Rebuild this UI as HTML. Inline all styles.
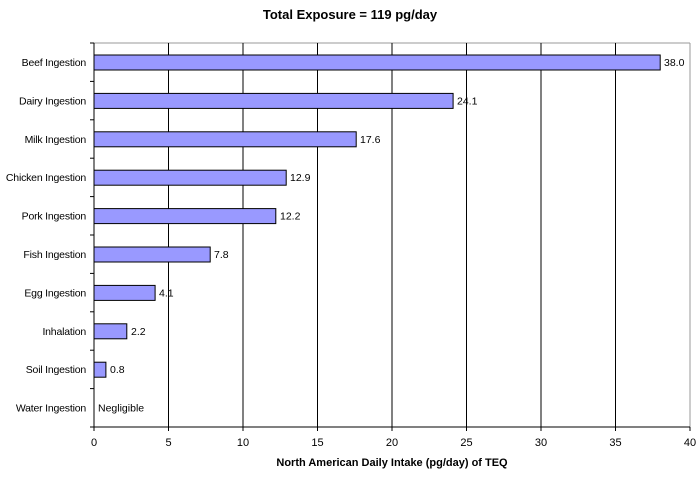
<!DOCTYPE html><html><head><style>body{margin:0;background:#fff}</style></head><body>
<svg width="700" height="478" xmlns="http://www.w3.org/2000/svg" font-family="Liberation Sans, Arial, sans-serif">
<rect width="700" height="478" fill="#fff"/>
<text x="350" y="19" font-size="13" font-weight="bold" text-anchor="middle">Total Exposure = 119 pg/day</text>
<line x1="94" y1="43" x2="690" y2="43" stroke="#999"/>
<line x1="690" y1="43" x2="690" y2="427" stroke="#999"/>
<g stroke="#000" stroke-width="1">
<line x1="168.5" y1="43" x2="168.5" y2="427"/><line x1="243" y1="43" x2="243" y2="427"/>
<line x1="317.5" y1="43" x2="317.5" y2="427"/><line x1="392" y1="43" x2="392" y2="427"/>
<line x1="466.5" y1="43" x2="466.5" y2="427"/><line x1="541" y1="43" x2="541" y2="427"/>
<line x1="615.5" y1="43" x2="615.5" y2="427"/>
<line x1="94" y1="43" x2="94" y2="431"/><line x1="90" y1="427" x2="690" y2="427"/>
<line x1="90" y1="43" x2="94" y2="43"/><line x1="90" y1="81.4" x2="94" y2="81.4"/><line x1="90" y1="119.8" x2="94" y2="119.8"/><line x1="90" y1="158.2" x2="94" y2="158.2"/><line x1="90" y1="196.6" x2="94" y2="196.6"/><line x1="90" y1="235" x2="94" y2="235"/><line x1="90" y1="273.4" x2="94" y2="273.4"/><line x1="90" y1="311.8" x2="94" y2="311.8"/><line x1="90" y1="350.2" x2="94" y2="350.2"/><line x1="90" y1="388.6" x2="94" y2="388.6"/>
<line x1="168.5" y1="427" x2="168.5" y2="431"/><line x1="243" y1="427" x2="243" y2="431"/><line x1="317.5" y1="427" x2="317.5" y2="431"/><line x1="392" y1="427" x2="392" y2="431"/><line x1="466.5" y1="427" x2="466.5" y2="431"/><line x1="541" y1="427" x2="541" y2="431"/><line x1="615.5" y1="427" x2="615.5" y2="431"/><line x1="690" y1="427" x2="690" y2="431"/>
</g>
<g fill="#9999ff" stroke="#000">
<rect x="94" y="55" width="566.2" height="15"/>
<rect x="94" y="93.4" width="359.1" height="15"/>
<rect x="94" y="131.8" width="262.2" height="15"/>
<rect x="94" y="170.2" width="192.2" height="15"/>
<rect x="94" y="208.6" width="181.8" height="15"/>
<rect x="94" y="247" width="116.2" height="15"/>
<rect x="94" y="285.4" width="61.1" height="15"/>
<rect x="94" y="323.8" width="32.8" height="15"/>
<rect x="94" y="362.2" width="11.9" height="15"/>
</g>
<g font-size="10.5" text-anchor="end" letter-spacing="-0.2">
<text x="86" y="66">Beef Ingestion</text><text x="86" y="104.4">Dairy Ingestion</text><text x="86" y="142.8">Milk Ingestion</text><text x="86" y="181.2">Chicken Ingestion</text><text x="86" y="219.6">Pork Ingestion</text><text x="86" y="258">Fish Ingestion</text><text x="86" y="296.4">Egg Ingestion</text><text x="86" y="334.8">Inhalation</text><text x="86" y="373.2">Soil Ingestion</text><text x="86" y="411.6">Water Ingestion</text>
</g>
<g font-size="10.5">
<text x="664" y="66">38.0</text><text x="457" y="104.4">24.1</text><text x="360" y="142.8">17.6</text><text x="290" y="181.2">12.9</text><text x="280" y="219.6">12.2</text><text x="214" y="258">7.8</text><text x="159" y="296.4">4.1</text><text x="131" y="334.8">2.2</text><text x="110" y="373.2">0.8</text><text x="98" y="411.6">Negligible</text>
</g>
<g font-size="11" text-anchor="middle">
<text x="94" y="446">0</text><text x="168.5" y="446">5</text><text x="243" y="446">10</text><text x="317.5" y="446">15</text><text x="392" y="446">20</text><text x="466.5" y="446">25</text><text x="541" y="446">30</text><text x="615.5" y="446">35</text><text x="690" y="446">40</text>
</g>
<text x="392" y="466" font-size="11" font-weight="bold" text-anchor="middle">North American Daily Intake (pg/day) of TEQ</text>
</svg></body></html>
